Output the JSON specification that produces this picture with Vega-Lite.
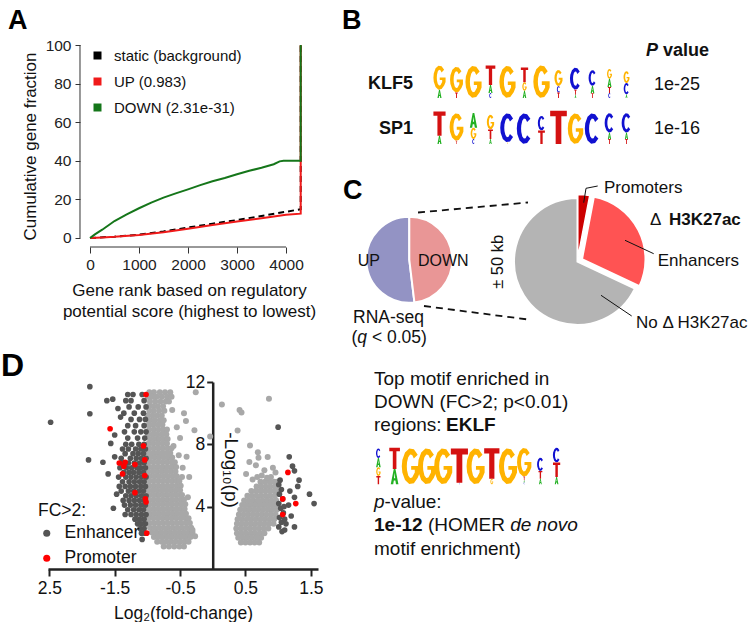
{
"$schema": "https://vega.github.io/schema/vega-lite/v6.json",
"background": "white",
"padding": {"left": 0, "top": 6, "right": 0, "bottom": 0},
"columns": 2,
"spacing": {"row": 45, "column": 13},
"bounds": "flush",
"align": "each",
"resolve": {"scale": {"color": "independent", "size": "independent", "shape": "independent", "opacity": "independent", "theta": "independent"}, "legend": {"color": "independent"}},
"config": {
  "font": "Liberation Sans",
  "view": {"stroke": null},
  "axis": {"grid": false, "labelColor": "#222", "titleColor": "#111", "titleFontWeight": "normal", "labelFlush": false, "labelOverlap": false},
  "text": {"color": "#111"},
  "legend": {"labelColor": "#111", "titleColor": "#111"}
},
"datasets": {
  "cum": [
    {"set":"static (background)","rank":0,"frac":0},{"set":"static (background)","rank":500,"frac":0.7},{"set":"static (background)","rank":1000,"frac":1.7},{"set":"static (background)","rank":1500,"frac":3.4},{"set":"static (background)","rank":2000,"frac":5.4},{"set":"static (background)","rank":2500,"frac":7.4},{"set":"static (background)","rank":3000,"frac":9.3},{"set":"static (background)","rank":3500,"frac":11.4},{"set":"static (background)","rank":4000,"frac":13.6},{"set":"static (background)","rank":4300,"frac":14.9},{"set":"static (background)","rank":4300,"frac":100},
    {"set":"UP (0.983)","rank":0,"frac":0},{"set":"UP (0.983)","rank":250,"frac":0.3},{"set":"UP (0.983)","rank":500,"frac":0.6},{"set":"UP (0.983)","rank":1000,"frac":1.5},{"set":"UP (0.983)","rank":1500,"frac":3.0},{"set":"UP (0.983)","rank":2000,"frac":4.8},{"set":"UP (0.983)","rank":2500,"frac":6.7},{"set":"UP (0.983)","rank":3000,"frac":8.5},{"set":"UP (0.983)","rank":3500,"frac":10.2},{"set":"UP (0.983)","rank":4000,"frac":12.1},{"set":"UP (0.983)","rank":4300,"frac":12.6},{"set":"UP (0.983)","rank":4300,"frac":100},
    {"set":"DOWN (2.31e-31)","rank":0,"frac":0},{"set":"DOWN (2.31e-31)","rank":100,"frac":1.9},{"set":"DOWN (2.31e-31)","rank":250,"frac":4.3},{"set":"DOWN (2.31e-31)","rank":500,"frac":8.8},{"set":"DOWN (2.31e-31)","rank":750,"frac":12.2},{"set":"DOWN (2.31e-31)","rank":1000,"frac":15.4},{"set":"DOWN (2.31e-31)","rank":1250,"frac":18.3},{"set":"DOWN (2.31e-31)","rank":1500,"frac":20.9},{"set":"DOWN (2.31e-31)","rank":1750,"frac":23.1},{"set":"DOWN (2.31e-31)","rank":2000,"frac":25.2},{"set":"DOWN (2.31e-31)","rank":2250,"frac":27.4},{"set":"DOWN (2.31e-31)","rank":2500,"frac":29.4},{"set":"DOWN (2.31e-31)","rank":2750,"frac":31.1},{"set":"DOWN (2.31e-31)","rank":3000,"frac":33.0},{"set":"DOWN (2.31e-31)","rank":3250,"frac":34.8},{"set":"DOWN (2.31e-31)","rank":3500,"frac":36.4},{"set":"DOWN (2.31e-31)","rank":3750,"frac":38.2},{"set":"DOWN (2.31e-31)","rank":3870,"frac":39.7},{"set":"DOWN (2.31e-31)","rank":3950,"frac":40},{"set":"DOWN (2.31e-31)","rank":4300,"frac":40},{"set":"DOWN (2.31e-31)","rank":4300,"frac":100}
  ],
  "ns": [
    {"x":-0.97,"y":11.35},{"x":-0.9,"y":11.35},{"x":-0.81,"y":11.35},{"x":-0.73,"y":11.35},{"x":-0.65,"y":11.35},
    {"x":-0.99,"y":11.05},{"x":-0.93,"y":11.05},{"x":-0.86,"y":11.05},{"x":-0.78,"y":11.05},{"x":-0.7,"y":11.05},{"x":-0.63,"y":11.05},
    {"x":-0.96,"y":10.75},{"x":-0.88,"y":10.75},{"x":-0.8,"y":10.75},{"x":-0.72,"y":10.75},{"x":-0.67,"y":10.75},
    {"x":-0.98,"y":10.45},{"x":-0.91,"y":10.45},{"x":-0.84,"y":10.45},{"x":-0.76,"y":10.45},
    {"x":-0.97,"y":10.15},{"x":-0.9,"y":10.15},{"x":-0.82,"y":10.15},{"x":-0.74,"y":10.15},
    {"x":-0.99,"y":9.85},{"x":-0.92,"y":9.85},{"x":-0.85,"y":9.85},{"x":-0.78,"y":9.85},
    {"x":-0.96,"y":9.55},{"x":-0.89,"y":9.55},{"x":-0.81,"y":9.55},{"x":-0.75,"y":9.55},
    {"x":-0.98,"y":9.25},{"x":-0.91,"y":9.25},{"x":-0.84,"y":9.25},{"x":-0.77,"y":9.25},
    {"x":-0.97,"y":8.95},{"x":-0.9,"y":8.95},{"x":-0.83,"y":8.95},{"x":-0.76,"y":8.95},{"x":-0.7,"y":8.95},
    {"x":-0.99,"y":8.65},{"x":-0.92,"y":8.65},{"x":-0.85,"y":8.65},{"x":-0.78,"y":8.65},{"x":-0.71,"y":8.65},
    {"x":-0.96,"y":8.35},{"x":-0.89,"y":8.35},{"x":-0.82,"y":8.35},{"x":-0.75,"y":8.35},{"x":-0.69,"y":8.35},
    {"x":-0.98,"y":8.05},{"x":-0.91,"y":8.05},{"x":-0.84,"y":8.05},{"x":-0.77,"y":8.05},{"x":-0.7,"y":8.05},
    {"x":-0.97,"y":7.75},{"x":-0.9,"y":7.75},{"x":-0.83,"y":7.75},{"x":-0.76,"y":7.75},{"x":-0.69,"y":7.75},{"x":-0.63,"y":7.75},
    {"x":-0.99,"y":7.45},{"x":-0.92,"y":7.45},{"x":-0.85,"y":7.45},{"x":-0.78,"y":7.45},{"x":-0.71,"y":7.45},{"x":-0.65,"y":7.45},
    {"x":-0.96,"y":7.15},{"x":-0.89,"y":7.15},{"x":-0.82,"y":7.15},{"x":-0.75,"y":7.15},{"x":-0.68,"y":7.15},{"x":-0.62,"y":7.15},
    {"x":-0.98,"y":6.85},{"x":-0.91,"y":6.85},{"x":-0.84,"y":6.85},{"x":-0.77,"y":6.85},{"x":-0.7,"y":6.85},{"x":-0.63,"y":6.85},{"x":-0.58,"y":6.85},
    {"x":-0.97,"y":6.55},{"x":-0.9,"y":6.55},{"x":-0.83,"y":6.55},{"x":-0.76,"y":6.55},{"x":-0.69,"y":6.55},{"x":-0.62,"y":6.55},{"x":-0.56,"y":6.55},
    {"x":-0.99,"y":6.25},{"x":-0.92,"y":6.25},{"x":-0.85,"y":6.25},{"x":-0.78,"y":6.25},{"x":-0.71,"y":6.25},{"x":-0.64,"y":6.25},{"x":-0.57,"y":6.25},
    {"x":-0.96,"y":5.95},{"x":-0.89,"y":5.95},{"x":-0.82,"y":5.95},{"x":-0.75,"y":5.95},{"x":-0.68,"y":5.95},{"x":-0.61,"y":5.95},{"x":-0.55,"y":5.95},
    {"x":-0.98,"y":5.65},{"x":-0.91,"y":5.65},{"x":-0.84,"y":5.65},{"x":-0.77,"y":5.65},{"x":-0.7,"y":5.65},{"x":-0.63,"y":5.65},{"x":-0.56,"y":5.65},{"x":-0.51,"y":5.65},
    {"x":-0.97,"y":5.35},{"x":-0.9,"y":5.35},{"x":-0.83,"y":5.35},{"x":-0.76,"y":5.35},{"x":-0.69,"y":5.35},{"x":-0.62,"y":5.35},{"x":-0.55,"y":5.35},{"x":-0.49,"y":5.35},
    {"x":-0.99,"y":5.05},{"x":-0.92,"y":5.05},{"x":-0.85,"y":5.05},{"x":-0.78,"y":5.05},{"x":-0.71,"y":5.05},{"x":-0.64,"y":5.05},{"x":-0.57,"y":5.05},{"x":-0.5,"y":5.05},
    {"x":-0.96,"y":4.75},{"x":-0.89,"y":4.75},{"x":-0.82,"y":4.75},{"x":-0.75,"y":4.75},{"x":-0.68,"y":4.75},{"x":-0.61,"y":4.75},{"x":-0.54,"y":4.75},{"x":-0.47,"y":4.75},
    {"x":-0.98,"y":4.45},{"x":-0.91,"y":4.45},{"x":-0.84,"y":4.45},{"x":-0.77,"y":4.45},{"x":-0.7,"y":4.45},{"x":-0.63,"y":4.45},{"x":-0.56,"y":4.45},{"x":-0.49,"y":4.45},{"x":-0.44,"y":4.45},
    {"x":-0.97,"y":4.15},{"x":-0.9,"y":4.15},{"x":-0.83,"y":4.15},{"x":-0.76,"y":4.15},{"x":-0.69,"y":4.15},{"x":-0.62,"y":4.15},{"x":-0.55,"y":4.15},{"x":-0.48,"y":4.15},{"x":-0.42,"y":4.15},
    {"x":-0.99,"y":3.85},{"x":-0.92,"y":3.85},{"x":-0.85,"y":3.85},{"x":-0.78,"y":3.85},{"x":-0.71,"y":3.85},{"x":-0.64,"y":3.85},{"x":-0.57,"y":3.85},{"x":-0.5,"y":3.85},{"x":-0.43,"y":3.85},
    {"x":-0.96,"y":3.55},{"x":-0.89,"y":3.55},{"x":-0.82,"y":3.55},{"x":-0.75,"y":3.55},{"x":-0.68,"y":3.55},{"x":-0.61,"y":3.55},{"x":-0.54,"y":3.55},{"x":-0.47,"y":3.55},{"x":-0.41,"y":3.55},
    {"x":-0.98,"y":3.25},{"x":-0.91,"y":3.25},{"x":-0.84,"y":3.25},{"x":-0.77,"y":3.25},{"x":-0.7,"y":3.25},{"x":-0.63,"y":3.25},{"x":-0.56,"y":3.25},{"x":-0.49,"y":3.25},{"x":-0.42,"y":3.25},{"x":-0.37,"y":3.25},
    {"x":-0.97,"y":2.95},{"x":-0.9,"y":2.95},{"x":-0.83,"y":2.95},{"x":-0.76,"y":2.95},{"x":-0.69,"y":2.95},{"x":-0.62,"y":2.95},{"x":-0.55,"y":2.95},{"x":-0.48,"y":2.95},{"x":-0.41,"y":2.95},{"x":-0.35,"y":2.95},
    {"x":-0.96,"y":2.65},{"x":-0.89,"y":2.65},{"x":-0.82,"y":2.65},{"x":-0.75,"y":2.65},{"x":-0.68,"y":2.65},{"x":-0.61,"y":2.65},{"x":-0.54,"y":2.65},{"x":-0.47,"y":2.65},{"x":-0.4,"y":2.65},{"x":-0.33,"y":2.65},
    {"x":-0.93,"y":2.35},{"x":-0.86,"y":2.35},{"x":-0.79,"y":2.35},{"x":-0.72,"y":2.35},{"x":-0.65,"y":2.35},{"x":-0.58,"y":2.35},{"x":-0.51,"y":2.35},{"x":-0.44,"y":2.35},{"x":-0.37,"y":2.35},{"x":-0.31,"y":2.35},
    {"x":-0.9,"y":2.05},{"x":-0.83,"y":2.05},{"x":-0.76,"y":2.05},{"x":-0.69,"y":2.05},{"x":-0.62,"y":2.05},{"x":-0.55,"y":2.05},{"x":-0.48,"y":2.05},{"x":-0.41,"y":2.05},{"x":-0.34,"y":2.05},
    {"x":-0.85,"y":1.75},{"x":-0.78,"y":1.75},{"x":-0.71,"y":1.75},{"x":-0.64,"y":1.75},{"x":-0.57,"y":1.75},{"x":-0.5,"y":1.75},{"x":-0.43,"y":1.75},{"x":-0.37,"y":1.75},
    {"x":-0.75,"y":1.45},{"x":-0.67,"y":1.45},{"x":-0.59,"y":1.45},{"x":-0.51,"y":1.45},{"x":-0.44,"y":1.45},
    {"x":-0.41,"y":9.5},{"x":-0.28,"y":8.9},{"x":-0.44,"y":9.99},{"x":-0.6,"y":7.9},{"x":-0.46,"y":6.5},{"x":-0.36,"y":5.9},{"x":-0.47,"y":5.9},{"x":-0.31,"y":2.5},{"x":-0.27,"y":2.1},{"x":-0.26,"y":11.35},{"x":-0.04,"y":8.5},{"x":-0.5,"y":8.4},{"x":-0.55,"y":9.1},{"x":-0.62,"y":10.2},{"x":-0.38,"y":4.6},{"x":-0.4,"y":7.2},{"x":-0.52,"y":7.3},
    {"x":0.73,"y":5.6},{"x":0.8,"y":5.6},{"x":0.87,"y":5.6},{"x":0.94,"y":5.6},{"x":0.99,"y":5.6},
    {"x":0.67,"y":5.3},{"x":0.74,"y":5.3},{"x":0.81,"y":5.3},{"x":0.88,"y":5.3},{"x":0.95,"y":5.3},
    {"x":0.59,"y":5.0},{"x":0.66,"y":5.0},{"x":0.73,"y":5.0},{"x":0.8,"y":5.0},{"x":0.87,"y":5.0},{"x":0.94,"y":5.0},{"x":0.99,"y":5.0},
    {"x":0.53,"y":4.7},{"x":0.6,"y":4.7},{"x":0.67,"y":4.7},{"x":0.74,"y":4.7},{"x":0.81,"y":4.7},{"x":0.88,"y":4.7},{"x":0.95,"y":4.7},
    {"x":0.48,"y":4.4},{"x":0.55,"y":4.4},{"x":0.62,"y":4.4},{"x":0.69,"y":4.4},{"x":0.76,"y":4.4},{"x":0.83,"y":4.4},{"x":0.9,"y":4.4},{"x":0.97,"y":4.4},
    {"x":0.45,"y":4.1},{"x":0.52,"y":4.1},{"x":0.59,"y":4.1},{"x":0.66,"y":4.1},{"x":0.73,"y":4.1},{"x":0.8,"y":4.1},{"x":0.87,"y":4.1},{"x":0.94,"y":4.1},{"x":0.99,"y":4.1},
    {"x":0.42,"y":3.8},{"x":0.49,"y":3.8},{"x":0.56,"y":3.8},{"x":0.63,"y":3.8},{"x":0.7,"y":3.8},{"x":0.77,"y":3.8},{"x":0.84,"y":3.8},{"x":0.91,"y":3.8},{"x":0.98,"y":3.8},
    {"x":0.4,"y":3.5},{"x":0.47,"y":3.5},{"x":0.54,"y":3.5},{"x":0.61,"y":3.5},{"x":0.68,"y":3.5},{"x":0.75,"y":3.5},{"x":0.82,"y":3.5},{"x":0.89,"y":3.5},{"x":0.96,"y":3.5},
    {"x":0.38,"y":3.2},{"x":0.45,"y":3.2},{"x":0.52,"y":3.2},{"x":0.59,"y":3.2},{"x":0.66,"y":3.2},{"x":0.73,"y":3.2},{"x":0.8,"y":3.2},{"x":0.87,"y":3.2},{"x":0.94,"y":3.2},
    {"x":0.37,"y":2.9},{"x":0.44,"y":2.9},{"x":0.51,"y":2.9},{"x":0.58,"y":2.9},{"x":0.65,"y":2.9},{"x":0.72,"y":2.9},{"x":0.79,"y":2.9},{"x":0.86,"y":2.9},{"x":0.93,"y":2.9},
    {"x":0.36,"y":2.6},{"x":0.43,"y":2.6},{"x":0.5,"y":2.6},{"x":0.57,"y":2.6},{"x":0.64,"y":2.6},{"x":0.71,"y":2.6},{"x":0.78,"y":2.6},{"x":0.85,"y":2.6},
    {"x":0.37,"y":2.3},{"x":0.44,"y":2.3},{"x":0.51,"y":2.3},{"x":0.58,"y":2.3},{"x":0.65,"y":2.3},{"x":0.72,"y":2.3},{"x":0.79,"y":2.3},
    {"x":0.39,"y":2.0},{"x":0.46,"y":2.0},{"x":0.53,"y":2.0},{"x":0.6,"y":2.0},{"x":0.67,"y":2.0},{"x":0.74,"y":2.0},
    {"x":0.43,"y":1.7},{"x":0.5,"y":1.7},{"x":0.57,"y":1.7},{"x":0.64,"y":1.7},{"x":0.71,"y":1.7},
    {"x":0.14,"y":10.56},{"x":0.41,"y":10.2},{"x":0.44,"y":10.05},{"x":0.86,"y":10.92},{"x":0.38,"y":8.89},{"x":0.57,"y":7.93},{"x":0.69,"y":7.5},{"x":0.7,"y":7.14},{"x":0.84,"y":7.18},{"x":0.56,"y":6.86},{"x":0.66,"y":6.65},{"x":0.79,"y":6.33},{"x":0.89,"y":5.9},{"x":0.51,"y":6.1},{"x":0.61,"y":5.75},{"x":0.92,"y":6.5},{"x":0.75,"y":6.0},{"x":0.96,"y":6.2},{"x":0.83,"y":5.85},{"x":0.68,"y":5.9}
  ],
  "fc": [
    {"x":-1.05,"y":8.0,"t":"Enhancer"},{"x":-1.13,"y":8.0,"t":"Enhancer"},{"x":-1.24,"y":8.0,"t":"Enhancer"},{"x":-1.33,"y":8.0,"t":"Enhancer"},
    {"x":-1.03,"y":7.7,"t":"Enhancer"},{"x":-1.1,"y":7.7,"t":"Enhancer"},{"x":-1.18,"y":7.7,"t":"Enhancer"},{"x":-1.29,"y":7.7,"t":"Enhancer"},{"x":-1.38,"y":7.7,"t":"Enhancer"},
    {"x":-1.06,"y":7.4,"t":"Enhancer"},{"x":-1.14,"y":7.4,"t":"Enhancer"},{"x":-1.22,"y":7.4,"t":"Enhancer"},{"x":-1.34,"y":7.4,"t":"Enhancer"},
    {"x":-1.02,"y":7.1,"t":"Enhancer"},{"x":-1.09,"y":7.1,"t":"Enhancer"},{"x":-1.17,"y":7.1,"t":"Enhancer"},{"x":-1.26,"y":7.1,"t":"Enhancer"},{"x":-1.4,"y":7.1,"t":"Enhancer"},
    {"x":-1.05,"y":6.8,"t":"Enhancer"},{"x":-1.12,"y":6.8,"t":"Enhancer"},{"x":-1.2,"y":6.8,"t":"Enhancer"},{"x":-1.29,"y":6.8,"t":"Enhancer"},{"x":-1.37,"y":6.8,"t":"Enhancer"},
    {"x":-1.03,"y":6.5,"t":"Enhancer"},{"x":-1.1,"y":6.5,"t":"Enhancer"},{"x":-1.16,"y":6.5,"t":"Enhancer"},{"x":-1.24,"y":6.5,"t":"Enhancer"},{"x":-1.32,"y":6.5,"t":"Enhancer"},{"x":-1.42,"y":6.5,"t":"Enhancer"},
    {"x":-1.06,"y":6.2,"t":"Enhancer"},{"x":-1.13,"y":6.2,"t":"Enhancer"},{"x":-1.21,"y":6.2,"t":"Enhancer"},{"x":-1.28,"y":6.2,"t":"Enhancer"},{"x":-1.36,"y":6.2,"t":"Enhancer"},
    {"x":-1.02,"y":5.9,"t":"Enhancer"},{"x":-1.09,"y":5.9,"t":"Enhancer"},{"x":-1.17,"y":5.9,"t":"Enhancer"},{"x":-1.25,"y":5.9,"t":"Enhancer"},{"x":-1.33,"y":5.9,"t":"Enhancer"},{"x":-1.44,"y":5.9,"t":"Enhancer"},
    {"x":-1.05,"y":5.6,"t":"Enhancer"},{"x":-1.12,"y":5.6,"t":"Enhancer"},{"x":-1.2,"y":5.6,"t":"Enhancer"},{"x":-1.28,"y":5.6,"t":"Enhancer"},{"x":-1.38,"y":5.6,"t":"Enhancer"},
    {"x":-1.03,"y":5.3,"t":"Enhancer"},{"x":-1.1,"y":5.3,"t":"Enhancer"},{"x":-1.18,"y":5.3,"t":"Enhancer"},{"x":-1.26,"y":5.3,"t":"Enhancer"},{"x":-1.34,"y":5.3,"t":"Enhancer"},{"x":-1.43,"y":5.3,"t":"Enhancer"},
    {"x":-1.06,"y":5.0,"t":"Enhancer"},{"x":-1.13,"y":5.0,"t":"Enhancer"},{"x":-1.21,"y":5.0,"t":"Enhancer"},{"x":-1.29,"y":5.0,"t":"Enhancer"},{"x":-1.4,"y":5.0,"t":"Enhancer"},
    {"x":-1.02,"y":4.7,"t":"Enhancer"},{"x":-1.09,"y":4.7,"t":"Enhancer"},{"x":-1.17,"y":4.7,"t":"Enhancer"},{"x":-1.25,"y":4.7,"t":"Enhancer"},{"x":-1.33,"y":4.7,"t":"Enhancer"},
    {"x":-1.05,"y":4.4,"t":"Enhancer"},{"x":-1.12,"y":4.4,"t":"Enhancer"},{"x":-1.2,"y":4.4,"t":"Enhancer"},{"x":-1.28,"y":4.4,"t":"Enhancer"},{"x":-1.37,"y":4.4,"t":"Enhancer"},
    {"x":-1.03,"y":4.1,"t":"Enhancer"},{"x":-1.1,"y":4.1,"t":"Enhancer"},{"x":-1.18,"y":4.1,"t":"Enhancer"},{"x":-1.26,"y":4.1,"t":"Enhancer"},{"x":-1.35,"y":4.1,"t":"Enhancer"},
    {"x":-1.06,"y":3.8,"t":"Enhancer"},{"x":-1.13,"y":3.8,"t":"Enhancer"},{"x":-1.21,"y":3.8,"t":"Enhancer"},{"x":-1.3,"y":3.8,"t":"Enhancer"},
    {"x":-1.02,"y":3.5,"t":"Enhancer"},{"x":-1.09,"y":3.5,"t":"Enhancer"},{"x":-1.17,"y":3.5,"t":"Enhancer"},{"x":-1.25,"y":3.5,"t":"Enhancer"},{"x":-1.34,"y":3.5,"t":"Enhancer"},
    {"x":-1.05,"y":3.2,"t":"Enhancer"},{"x":-1.12,"y":3.2,"t":"Enhancer"},{"x":-1.19,"y":3.2,"t":"Enhancer"},
    {"x":-1.03,"y":2.9,"t":"Enhancer"},{"x":-1.09,"y":2.9,"t":"Enhancer"},{"x":-1.15,"y":2.9,"t":"Enhancer"},
    {"x":-1.05,"y":2.6,"t":"Enhancer"},{"x":-1.11,"y":2.6,"t":"Enhancer"},
    {"x":-1.04,"y":2.3,"t":"Enhancer"},{"x":-1.09,"y":2.3,"t":"Enhancer"},
    {"x":-1.04,"y":8.4,"t":"Enhancer"},{"x":-1.15,"y":8.4,"t":"Enhancer"},{"x":-1.3,"y":8.4,"t":"Enhancer"},
    {"x":-1.02,"y":8.8,"t":"Enhancer"},{"x":-1.1,"y":8.8,"t":"Enhancer"},{"x":-1.2,"y":8.8,"t":"Enhancer"},{"x":-1.35,"y":8.8,"t":"Enhancer"},
    {"x":-1.05,"y":9.2,"t":"Enhancer"},{"x":-1.18,"y":9.2,"t":"Enhancer"},{"x":-1.3,"y":9.2,"t":"Enhancer"},
    {"x":-1.03,"y":9.6,"t":"Enhancer"},{"x":-1.12,"y":9.6,"t":"Enhancer"},{"x":-1.25,"y":9.6,"t":"Enhancer"},
    {"x":-1.06,"y":10.0,"t":"Enhancer"},{"x":-1.2,"y":10.0,"t":"Enhancer"},{"x":-1.36,"y":10.0,"t":"Enhancer"},
    {"x":-1.02,"y":10.4,"t":"Enhancer"},{"x":-1.14,"y":10.4,"t":"Enhancer"},{"x":-1.28,"y":10.4,"t":"Enhancer"},
    {"x":-1.05,"y":10.8,"t":"Enhancer"},{"x":-1.25,"y":10.8,"t":"Enhancer"},{"x":-1.33,"y":10.8,"t":"Enhancer"},
    {"x":-1.08,"y":11.2,"t":"Enhancer"},{"x":-1.22,"y":11.2,"t":"Enhancer"},{"x":-1.3,"y":11.2,"t":"Enhancer"},
    {"x":-1.88,"y":11.7,"t":"Enhancer"},{"x":-1.88,"y":9.96,"t":"Enhancer"},{"x":-2.48,"y":9.42,"t":"Enhancer"},{"x":-1.9,"y":7.0,"t":"Enhancer"},{"x":-1.6,"y":6.1,"t":"Enhancer"},{"x":-1.62,"y":10.8,"t":"Enhancer"},{"x":-1.53,"y":10.9,"t":"Enhancer"},{"x":-1.41,"y":9.75,"t":"Enhancer"},{"x":-1.56,"y":8.06,"t":"Enhancer"},{"x":-1.68,"y":6.85,"t":"Enhancer"},{"x":-1.5,"y":7.2,"t":"Enhancer"},{"x":-1.47,"y":4.8,"t":"Enhancer"},{"x":-1.52,"y":3.9,"t":"Enhancer"},{"x":-1.08,"y":1.9,"t":"Enhancer"},{"x":-1.5,"y":8.6,"t":"Enhancer"},{"x":-1.45,"y":10.3,"t":"Enhancer"},
    {"x":1.01,"y":5.4,"t":"Enhancer"},{"x":1.05,"y":5.1,"t":"Enhancer"},{"x":1.02,"y":4.8,"t":"Enhancer"},{"x":1.07,"y":4.5,"t":"Enhancer"},{"x":1.01,"y":4.2,"t":"Enhancer"},{"x":1.04,"y":3.9,"t":"Enhancer"},{"x":1.08,"y":3.6,"t":"Enhancer"},{"x":1.02,"y":3.3,"t":"Enhancer"},{"x":1.05,"y":3.0,"t":"Enhancer"},{"x":1.01,"y":2.7,"t":"Enhancer"},{"x":1.06,"y":2.4,"t":"Enhancer"},{"x":1.09,"y":4.0,"t":"Enhancer"},{"x":1.03,"y":5.7,"t":"Enhancer"},{"x":1.1,"y":3.2,"t":"Enhancer"},
    {"x":1.0,"y":9.1,"t":"Enhancer"},{"x":1.17,"y":7.2,"t":"Enhancer"},{"x":1.22,"y":6.6,"t":"Enhancer"},{"x":1.25,"y":6.3,"t":"Enhancer"},{"x":1.32,"y":5.7,"t":"Enhancer"},{"x":1.3,"y":5.3,"t":"Enhancer"},{"x":1.48,"y":4.8,"t":"Enhancer"},{"x":1.55,"y":4.2,"t":"Enhancer"},{"x":1.16,"y":4.1,"t":"Enhancer"},{"x":1.25,"y":4.6,"t":"Enhancer"},{"x":1.2,"y":3.4,"t":"Enhancer"},{"x":1.1,"y":2.5,"t":"Enhancer"},{"x":1.25,"y":2.7,"t":"Enhancer"},{"x":1.12,"y":2.9,"t":"Enhancer"},{"x":1.18,"y":5.0,"t":"Enhancer"},
    {"x":-1.02,"y":11.2,"t":"Promoter"},{"x":-1.57,"y":9.0,"t":"Promoter"},{"x":-1.06,"y":7.9,"t":"Promoter"},{"x":-1.04,"y":7.0,"t":"Promoter"},{"x":-1.43,"y":6.8,"t":"Promoter"},{"x":-1.36,"y":6.6,"t":"Promoter"},{"x":-1.34,"y":6.85,"t":"Promoter"},{"x":-1.19,"y":6.7,"t":"Promoter"},{"x":-1.38,"y":6.1,"t":"Promoter"},{"x":-1.04,"y":6.0,"t":"Promoter"},{"x":-1.19,"y":4.9,"t":"Promoter"},{"x":-1.03,"y":4.5,"t":"Promoter"},{"x":-1.02,"y":4.3,"t":"Promoter"},{"x":-1.01,"y":2.3,"t":"Promoter"},
    {"x":1.15,"y":6.2,"t":"Promoter"},{"x":1.07,"y":4.5,"t":"Promoter"},{"x":1.27,"y":4.2,"t":"Promoter"},{"x":1.07,"y":3.5,"t":"Promoter"}
  ],
  "rna": [{"dir":"UP","pct":51.9},{"dir":"DOWN","pct":48.1}],
  "h3": [{"reg":"Promoters","pct":3},{"reg":"Enhancers","pct":29},{"reg":"No Δ H3K27ac","pct":68}],
  "logo": [
    {"motif":"KLF5","pos":1,"nt":"G","bits":1.43},{"motif":"KLF5","pos":1,"nt":"A","bits":0.48},
    {"motif":"KLF5","pos":2,"nt":"G","bits":1.52},{"motif":"KLF5","pos":2,"nt":"T","bits":0.32},
    {"motif":"KLF5","pos":3,"nt":"G","bits":1.9},
    {"motif":"KLF5","pos":4,"nt":"T","bits":1.14},{"motif":"KLF5","pos":4,"nt":"A","bits":0.48},{"motif":"KLF5","pos":4,"nt":"C","bits":0.29},
    {"motif":"KLF5","pos":5,"nt":"G","bits":1.9},
    {"motif":"KLF5","pos":6,"nt":"T","bits":0.86},{"motif":"KLF5","pos":6,"nt":"G","bits":0.51},{"motif":"KLF5","pos":6,"nt":"A","bits":0.42},
    {"motif":"KLF5","pos":7,"nt":"G","bits":1.92},
    {"motif":"KLF5","pos":8,"nt":"G","bits":0.95},{"motif":"KLF5","pos":8,"nt":"C","bits":0.38},{"motif":"KLF5","pos":8,"nt":"T","bits":0.32},
    {"motif":"KLF5","pos":9,"nt":"C","bits":1.3},{"motif":"KLF5","pos":9,"nt":"T","bits":0.3},{"motif":"KLF5","pos":9,"nt":"A","bits":0.19},
    {"motif":"KLF5","pos":10,"nt":"C","bits":0.92},{"motif":"KLF5","pos":10,"nt":"A","bits":0.44},{"motif":"KLF5","pos":10,"nt":"T","bits":0.28},
    {"motif":"KLF5","pos":11,"nt":"G","bits":0.58},{"motif":"KLF5","pos":11,"nt":"A","bits":0.48},{"motif":"KLF5","pos":11,"nt":"T","bits":0.36},{"motif":"KLF5","pos":11,"nt":"C","bits":0.29},
    {"motif":"KLF5","pos":12,"nt":"G","bits":0.7},{"motif":"KLF5","pos":12,"nt":"C","bits":0.66},{"motif":"KLF5","pos":12,"nt":"A","bits":0.22},
    {"motif":"SP1","pos":1,"nt":"T","bits":1.43},{"motif":"SP1","pos":1,"nt":"A","bits":0.48},
    {"motif":"SP1","pos":2,"nt":"G","bits":1.62},{"motif":"SP1","pos":2,"nt":"T","bits":0.19},
    {"motif":"SP1","pos":3,"nt":"A","bits":0.86},{"motif":"SP1","pos":3,"nt":"G","bits":0.67},{"motif":"SP1","pos":3,"nt":"C","bits":0.29},
    {"motif":"SP1","pos":4,"nt":"G","bits":0.86},{"motif":"SP1","pos":4,"nt":"T","bits":0.57},{"motif":"SP1","pos":4,"nt":"A","bits":0.29},
    {"motif":"SP1","pos":5,"nt":"C","bits":1.71},{"motif":"SP1","pos":5,"nt":"G","bits":0.1},
    {"motif":"SP1","pos":6,"nt":"C","bits":1.81},
    {"motif":"SP1","pos":7,"nt":"C","bits":0.86},{"motif":"SP1","pos":7,"nt":"T","bits":0.8},
    {"motif":"SP1","pos":8,"nt":"T","bits":1.96},
    {"motif":"SP1","pos":9,"nt":"G","bits":1.81},
    {"motif":"SP1","pos":10,"nt":"C","bits":1.81},
    {"motif":"SP1","pos":11,"nt":"C","bits":1.14},{"motif":"SP1","pos":11,"nt":"A","bits":0.38},{"motif":"SP1","pos":11,"nt":"T","bits":0.29},
    {"motif":"SP1","pos":12,"nt":"C","bits":1.14},{"motif":"SP1","pos":12,"nt":"A","bits":0.38},{"motif":"SP1","pos":12,"nt":"T","bits":0.29},
    {"motif":"EKLF","pos":1,"nt":"C","bits":0.52},{"motif":"EKLF","pos":1,"nt":"A","bits":0.5},{"motif":"EKLF","pos":1,"nt":"G","bits":0.47},{"motif":"EKLF","pos":1,"nt":"T","bits":0.45},
    {"motif":"EKLF","pos":2,"nt":"T","bits":1.15},{"motif":"EKLF","pos":2,"nt":"A","bits":0.83},
    {"motif":"EKLF","pos":3,"nt":"G","bits":1.95},
    {"motif":"EKLF","pos":4,"nt":"G","bits":1.95},
    {"motif":"EKLF","pos":5,"nt":"G","bits":1.95},
    {"motif":"EKLF","pos":6,"nt":"T","bits":1.85},{"motif":"EKLF","pos":6,"nt":"C","bits":0.08},
    {"motif":"EKLF","pos":7,"nt":"G","bits":1.95},
    {"motif":"EKLF","pos":8,"nt":"T","bits":1.65},{"motif":"EKLF","pos":8,"nt":"G","bits":0.3},
    {"motif":"EKLF","pos":9,"nt":"G","bits":1.95},
    {"motif":"EKLF","pos":10,"nt":"G","bits":1.55},{"motif":"EKLF","pos":10,"nt":"T","bits":0.2},{"motif":"EKLF","pos":10,"nt":"A","bits":0.12},{"motif":"EKLF","pos":10,"nt":"C","bits":0.1},
    {"motif":"EKLF","pos":11,"nt":"C","bits":0.72},{"motif":"EKLF","pos":11,"nt":"T","bits":0.42},{"motif":"EKLF","pos":11,"nt":"A","bits":0.3},
    {"motif":"EKLF","pos":12,"nt":"C","bits":0.8},{"motif":"EKLF","pos":12,"nt":"T","bits":0.78},{"motif":"EKLF","pos":12,"nt":"A","bits":0.4}
  ]
},
"concat": [
  {
    "width": 253, "height": 209,
    "layer": [
      {
        "data": {"name": "cum"},
        "encoding": {
          "x": {"field": "rank", "type": "quantitative", "scale": {"domain": [-857, 4306], "nice": false, "zero": false},
                "axis": {"values": [0,1000,2000,3000,4000], "format": "d", "domain": false, "offset": 1, "tickSize": 6, "tickColor": "#333", "labelFontSize": 15.5, "labelPadding": 4, "title": ["Gene rank based on regulatory", "potential score (highest to lowest)"], "titleFontSize": 17, "titlePadding": 10, "titleLineHeight": 21, "titleX": 141}},
          "y": {"field": "frac", "type": "quantitative", "scale": {"domain": [-4.15, 104.15], "nice": false, "zero": false},
                "axis": {"values": [0,20,40,60,80,100], "format": "d", "domain": false, "offset": -32, "tickSize": 5, "tickColor": "#333", "labelFontSize": 15.5, "labelPadding": 4, "title": "Cumulative gene fraction", "titleFontSize": 17, "titlePadding": 6, "titleY": 109}},
          "color": {"field": "set", "type": "nominal", "scale": {"domain": ["static (background)", "UP (0.983)", "DOWN (2.31e-31)"], "range": ["#000000", "#f01a1a", "#15761a"]},
                "legend": {"orient": "none", "legendX": 42, "legendY": 11, "title": null, "symbolType": "square", "symbolSize": 9, "symbolStrokeWidth": 5, "symbolDash": [], "labelFontSize": 15, "labelOffset": 9, "rowPadding": 3, "padding": 0}}
        },
        "layer": [
          {"transform": [{"filter": "datum.set === 'static (background)'"}], "mark": {"type": "line", "strokeWidth": 2, "strokeDash": [6, 4]}},
          {"transform": [{"filter": "datum.set === 'UP (0.983)'"}], "mark": {"type": "line", "strokeWidth": 2}},
          {"transform": [{"filter": "datum.set === 'DOWN (2.31e-31)'"}], "mark": {"type": "line", "strokeWidth": 2}}
        ]
      },
      {"data": {"values": [{}]}, "mark": {"type": "rule", "color": "#333", "strokeWidth": 1}, "encoding": {"x": {"datum": 0}, "x2": {"datum": 4000}, "y": {"datum": -4.67}}},
      {"data": {"values": [{}]}, "mark": {"type": "rule", "color": "#333", "strokeWidth": 1}, "encoding": {"x": {"datum": -204}, "y": {"datum": 0}, "y2": {"datum": 100}}},
      {"data": {"values": [{}]}, "mark": {"type": "text", "text": "A", "fontSize": 27, "fontWeight": "bold", "align": "left", "baseline": "alphabetic", "color": "#000"}, "encoding": {"x": {"datum": -1673}, "y": {"datum": 108.3}}}
    ]
  },
  {
    "width": 420, "height": 300,
    "resolve": {"scale": {"x": "independent", "y": "independent", "color": "independent", "size": "independent", "shape": "independent", "theta": "independent"}},
    "layer": [
      {
        "data": {"values": [{}]},
        "resolve": {"scale": {"theta": "independent", "color": "independent"}},
        "layer": [
          {"mark": {"type": "text", "text": "B", "fontSize": 27, "fontWeight": "bold", "align": "left", "baseline": "alphabetic", "color": "#000"},
           "encoding": {"x": {"datum": 341, "type": "quantitative", "scale": {"domain": [330, 750], "nice": false, "zero": false}, "axis": null},
                        "y": {"datum": 28.3, "type": "quantitative", "scale": {"domain": [36, 336], "reverse": true, "nice": false, "zero": false}, "axis": null}}},
          {"mark": {"type": "text", "text": "C", "fontSize": 27, "fontWeight": "bold", "align": "left", "baseline": "alphabetic", "color": "#000"}, "encoding": {"x": {"datum": 342, "axis": null}, "y": {"datum": 198.3, "axis": null}}},
          {"mark": {"type": "text", "text": "P", "fontSize": 18, "fontWeight": "bold", "fontStyle": "italic", "align": "left", "baseline": "alphabetic"}, "encoding": {"x": {"datum": 645, "axis": null}, "y": {"datum": 54.7, "axis": null}}},
          {"mark": {"type": "text", "text": "value", "fontSize": 18, "fontWeight": "bold", "align": "left", "baseline": "alphabetic"}, "encoding": {"x": {"datum": 662, "axis": null}, "y": {"datum": 54.7, "axis": null}}},
          {"mark": {"type": "text", "text": "KLF5", "fontSize": 18, "fontWeight": "bold", "align": "right", "baseline": "alphabetic"}, "encoding": {"x": {"datum": 412, "axis": null}, "y": {"datum": 88.1, "axis": null}}},
          {"mark": {"type": "text", "text": "SP1", "fontSize": 18, "fontWeight": "bold", "align": "right", "baseline": "alphabetic"}, "encoding": {"x": {"datum": 412, "axis": null}, "y": {"datum": 133.1, "axis": null}}},
          {"mark": {"type": "text", "text": "1e-25", "fontSize": 18, "align": "left", "baseline": "alphabetic"}, "encoding": {"x": {"datum": 653, "axis": null}, "y": {"datum": 89.1, "axis": null}}},
          {"mark": {"type": "text", "text": "1e-16", "fontSize": 18, "align": "left", "baseline": "alphabetic"}, "encoding": {"x": {"datum": 653, "axis": null}, "y": {"datum": 133.1, "axis": null}}},
          {"data": {"name": "rna"}, "mark": {"type": "arc", "outerRadius": 43, "stroke": "#ffffff", "strokeWidth": 2},
           "encoding": {"theta": {"field": "pct", "type": "quantitative"}, "order": {"field": "pct", "type": "quantitative", "sort": "ascending"},
                        "color": {"field": "dir", "type": "nominal", "scale": {"domain": ["UP", "DOWN"], "range": ["#9393c4", "#e99696"]}, "legend": null},
                        "x": {"datum": 408.3, "axis": null}, "y": {"datum": 258.8, "axis": null}}},
          {"data": {"name": "h3"},
           "encoding": {"theta": {"field": "pct", "type": "quantitative"}, "order": {"field": "pct", "type": "quantitative", "sort": "ascending"},
                        "color": {"field": "reg", "type": "nominal", "scale": {"domain": ["Promoters", "Enhancers", "No Δ H3K27ac"], "range": ["#cc0000", "#ff5353", "#b4b4b4"]}, "legend": null},
                        "x": {"datum": 576.5, "axis": null}, "y": {"datum": 260.5, "axis": null}},
           "layer": [
             {"mark": {"type": "arc", "outerRadius": 63.5, "stroke": "#ffffff", "strokeWidth": 2}, "encoding": {"opacity": {"condition": {"test": "datum.reg === 'No Δ H3K27ac'", "value": 1}, "value": 0}}},
             {"mark": {"type": "arc", "outerRadius": 63.5, "stroke": "#ffffff", "strokeWidth": 1.5, "xOffset": 0.3, "yOffset": -3.5}, "encoding": {"opacity": {"condition": {"test": "datum.reg === 'Promoters'", "value": 1}, "value": 0}}},
             {"mark": {"type": "arc", "outerRadius": 63.5, "stroke": "#ffffff", "strokeWidth": 2, "xOffset": 4.5, "yOffset": -2.3}, "encoding": {"opacity": {"condition": {"test": "datum.reg === 'Enhancers'", "value": 1}, "value": 0}}}
           ]},
          {"mark": {"type": "text", "text": "UP", "fontSize": 16, "align": "left", "baseline": "alphabetic"}, "encoding": {"x": {"datum": 356.7, "axis": null}, "y": {"datum": 265, "axis": null}}},
          {"mark": {"type": "text", "text": "DOWN", "fontSize": 16, "align": "left", "baseline": "alphabetic"}, "encoding": {"x": {"datum": 417, "axis": null}, "y": {"datum": 265, "axis": null}}},
          {"mark": {"type": "text", "text": "RNA-seq", "fontSize": 17.5, "align": "center", "baseline": "alphabetic"}, "encoding": {"x": {"datum": 387.5, "axis": null}, "y": {"datum": 321.5, "axis": null}}},
          {"mark": {"type": "text", "text": "(", "fontSize": 17.5, "align": "left", "baseline": "alphabetic"}, "encoding": {"x": {"datum": 350.5, "axis": null}, "y": {"datum": 341.5, "axis": null}}},
          {"mark": {"type": "text", "text": "q", "fontSize": 17.5, "fontStyle": "italic", "align": "left", "baseline": "alphabetic"}, "encoding": {"x": {"datum": 356.3, "axis": null}, "y": {"datum": 341.5, "axis": null}}},
          {"mark": {"type": "text", "text": "< 0.05)", "fontSize": 17.5, "align": "left", "baseline": "alphabetic"}, "encoding": {"x": {"datum": 370.9, "axis": null}, "y": {"datum": 341.5, "axis": null}}},
          {"mark": {"type": "text", "text": "± 50 kb", "fontSize": 16.5, "angle": 270, "align": "center", "baseline": "middle"}, "encoding": {"x": {"datum": 496.7, "axis": null}, "y": {"datum": 260.8, "axis": null}}},
          {"mark": {"type": "text", "text": "Promoters", "fontSize": 17, "align": "left", "baseline": "alphabetic"}, "encoding": {"x": {"datum": 603, "axis": null}, "y": {"datum": 191.8, "axis": null}}},
          {"mark": {"type": "text", "text": "Δ", "fontSize": 17, "align": "left", "baseline": "alphabetic"}, "encoding": {"x": {"datum": 649, "axis": null}, "y": {"datum": 224.4, "axis": null}}},
          {"mark": {"type": "text", "text": "H3K27ac", "fontSize": 17, "fontWeight": "bold", "align": "left", "baseline": "alphabetic"}, "encoding": {"x": {"datum": 668, "axis": null}, "y": {"datum": 224.4, "axis": null}}},
          {"mark": {"type": "text", "text": "Enhancers", "fontSize": 17, "align": "left", "baseline": "alphabetic"}, "encoding": {"x": {"datum": 656.7, "axis": null}, "y": {"datum": 265.4, "axis": null}}},
          {"mark": {"type": "text", "text": "No Δ H3K27ac", "fontSize": 17, "align": "left", "baseline": "alphabetic"}, "encoding": {"x": {"datum": 635, "axis": null}, "y": {"datum": 326.8, "axis": null}}},
          {"mark": {"type": "rule", "color": "#111", "strokeWidth": 1.8, "strokeDash": [7, 5]}, "encoding": {"x": {"datum": 417, "axis": null}, "y": {"datum": 211.5, "axis": null}, "x2": {"datum": 527}, "y2": {"datum": 201.5}}},
          {"mark": {"type": "rule", "color": "#111", "strokeWidth": 1.8, "strokeDash": [7, 5]}, "encoding": {"x": {"datum": 423, "axis": null}, "y": {"datum": 305, "axis": null}, "x2": {"datum": 527}, "y2": {"datum": 318.5}}},
          {"mark": {"type": "rule", "color": "#111", "strokeWidth": 1}, "encoding": {"x": {"datum": 582.7, "axis": null}, "y": {"datum": 201.7, "axis": null}, "x2": {"datum": 585}, "y2": {"datum": 187.3}}},
          {"mark": {"type": "rule", "color": "#111", "strokeWidth": 1}, "encoding": {"x": {"datum": 585, "axis": null}, "y": {"datum": 187.3, "axis": null}, "x2": {"datum": 596.7}, "y2": {"datum": 185}}},
          {"mark": {"type": "rule", "color": "#111", "strokeWidth": 1}, "encoding": {"x": {"datum": 624, "axis": null}, "y": {"datum": 239.3, "axis": null}, "x2": {"datum": 652.7}, "y2": {"datum": 252.7}}},
          {"mark": {"type": "rule", "color": "#111", "strokeWidth": 1}, "encoding": {"x": {"datum": 600, "axis": null}, "y": {"datum": 294.3, "axis": null}, "x2": {"datum": 630.7}, "y2": {"datum": 315}}}
        ]
      },
      {
        "data": {"name": "logo"},
        "transform": [{"filter": "datum.motif === 'KLF5'"}],
        "mark": {"type": "point", "filled": true, "opacity": 1, "strokeWidth": 0},
        "encoding": {
          "x": {"field": "pos", "type": "quantitative", "scale": {"domain": [-5.382, 19.324], "nice": false, "zero": false}, "axis": null},
          "y": {"field": "bits", "type": "quantitative", "stack": "zero", "scale": {"domain": [-14.059, 3.588], "nice": false, "zero": false}, "axis": null},
          "order": {"field": "bits", "type": "quantitative", "sort": "ascending"},
          "color": {"field": "nt", "type": "nominal", "scale": {"domain": ["A", "C", "G", "T"], "range": ["#22b022", "#1111d0", "#ffb300", "#d41111"]}, "legend": null},
          "shape": {"field": "nt", "type": "nominal", "scale": {"domain": ["A", "C", "G", "T"], "range": [
            "M-0.11,0H0.11L0.5,2H0.18L0.1,1.52H-0.1L-0.18,2H-0.5Z M0,0.5L-0.08,1.2H0.08Z",
            "M0.383,0.357L0.171,0.06L-0.087,0.015L-0.321,0.234L-0.47,0.658L-0.5,1L-0.47,1.342L-0.321,1.766L-0.087,1.985L0.171,1.94L0.383,1.643L0.17,1.424L0.075,1.62L-0.039,1.65L-0.143,1.506L-0.209,1.226L-0.222,1L-0.209,0.774L-0.143,0.494L-0.039,0.35L0.075,0.38L0.17,0.576Z",
            "M0.383,0.357L0.171,0.06L-0.087,0.015L-0.321,0.234L-0.47,0.658L-0.5,1L-0.47,1.342L-0.321,1.766L-0.087,1.985L0.171,1.94L0.383,1.643L0.5,1.35L0.5,0.98L0.02,0.98L0.02,1.2L0.22,1.2L0.22,1.35L0.075,1.62L-0.039,1.65L-0.143,1.506L-0.209,1.226L-0.222,1L-0.209,0.774L-0.143,0.494L-0.039,0.35L0.075,0.38L0.17,0.576Z",
            "M-0.5,0H0.5V0.34H0.17V2H-0.17V0.34H-0.5Z"]}, "legend": null},
          "size": {"field": "bits", "type": "quantitative", "scale": {"type": "pow", "exponent": 2, "domain": [0, 2], "range": [0, 1156]}, "legend": null}
        }
      },
      {
        "data": {"name": "logo"},
        "transform": [{"filter": "datum.motif === 'SP1'"}],
        "mark": {"type": "point", "filled": true, "opacity": 1, "strokeWidth": 0},
        "encoding": {
          "x": {"field": "pos", "type": "quantitative", "scale": {"domain": [-5.382, 19.324], "nice": false, "zero": false}, "axis": null},
          "y": {"field": "bits", "type": "quantitative", "stack": "zero", "scale": {"domain": [-11.353, 6.294], "nice": false, "zero": false}, "axis": null},
          "order": {"field": "bits", "type": "quantitative", "sort": "ascending"},
          "color": {"field": "nt", "type": "nominal", "scale": {"domain": ["A", "C", "G", "T"], "range": ["#22b022", "#1111d0", "#ffb300", "#d41111"]}, "legend": null},
          "shape": {"field": "nt", "type": "nominal", "scale": {"domain": ["A", "C", "G", "T"], "range": [
            "M-0.11,0H0.11L0.5,2H0.18L0.1,1.52H-0.1L-0.18,2H-0.5Z M0,0.5L-0.08,1.2H0.08Z",
            "M0.383,0.357L0.171,0.06L-0.087,0.015L-0.321,0.234L-0.47,0.658L-0.5,1L-0.47,1.342L-0.321,1.766L-0.087,1.985L0.171,1.94L0.383,1.643L0.17,1.424L0.075,1.62L-0.039,1.65L-0.143,1.506L-0.209,1.226L-0.222,1L-0.209,0.774L-0.143,0.494L-0.039,0.35L0.075,0.38L0.17,0.576Z",
            "M0.383,0.357L0.171,0.06L-0.087,0.015L-0.321,0.234L-0.47,0.658L-0.5,1L-0.47,1.342L-0.321,1.766L-0.087,1.985L0.171,1.94L0.383,1.643L0.5,1.35L0.5,0.98L0.02,0.98L0.02,1.2L0.22,1.2L0.22,1.35L0.075,1.62L-0.039,1.65L-0.143,1.506L-0.209,1.226L-0.222,1L-0.209,0.774L-0.143,0.494L-0.039,0.35L0.075,0.38L0.17,0.576Z",
            "M-0.5,0H0.5V0.34H0.17V2H-0.17V0.34H-0.5Z"]}, "legend": null},
          "size": {"field": "bits", "type": "quantitative", "scale": {"type": "pow", "exponent": 2, "domain": [0, 2], "range": [0, 1156]}, "legend": null}
        }
      }
    ]
  },
  {
    "width": 270, "height": 187,
    "layer": [
      {"data": {"name": "ns"}, "mark": {"type": "circle", "size": 36, "color": "#a8a8a8", "opacity": 1},
       "encoding": {
         "x": {"field": "x", "type": "quantitative", "scale": {"domain": [-2.52, 1.61], "nice": false, "zero": false},
               "axis": {"values": [-2.5,-2,-1.5,-1,-0.5,0,0.5,1,1.5], "labelExpr": "datum.value == -2.5 ? '2.5' : datum.value == -1.5 ? '-1.5' : datum.value == -0.5 ? '-0.5' : datum.value == 0 ? '0' : datum.value == 0.5 ? '0.5' : datum.value == 1.5 ? '1.5' : ''", "domainWidth": 2.5, "domainColor": "#222", "tickWidth": 2, "tickColor": "#222", "tickSize": 7, "labelFontSize": 17.5, "labelPadding": 3, "labelColor": "#111", "title": "Log₂(fold-change)", "titleFontSize": 17.5, "titlePadding": 8}},
         "y": {"field": "y", "type": "quantitative", "scale": {"domain": [0, 12], "nice": false, "zero": false},
               "axis": {"values": [4, 8, 12], "offset": -164.7, "domainWidth": 2.5, "domainColor": "#222", "tickWidth": 2, "tickColor": "#222", "tickSize": 6, "labelFontSize": 17.5, "labelPadding": 2, "labelColor": "#111", "title": null}}
       }},
      {"data": {"name": "fc"}, "mark": {"type": "circle", "size": 32, "opacity": 1},
       "encoding": {
         "x": {"field": "x", "type": "quantitative"},
         "y": {"field": "y", "type": "quantitative"},
         "color": {"field": "t", "type": "nominal", "scale": {"domain": ["Enhancer", "Promoter"], "range": ["#555555", "#ff0000"]},
                   "legend": {"orient": "none", "legendX": -10, "legendY": 120, "zindex": 1, "title": "FC>2:", "titleFontSize": 17.5, "titleFontWeight": "normal", "titlePadding": 5, "labelFontSize": 17.5, "labelLimit": 300, "symbolType": "circle", "symbolSize": 50, "symbolStrokeWidth": 0, "symbolOpacity": 1, "rowPadding": 6, "labelOffset": 9, "padding": 0}}
       }},
      {"data": {"values": [{}]}, "mark": {"type": "text", "text": "D", "fontSize": 32, "fontWeight": "bold", "align": "left", "baseline": "alphabetic", "color": "#000"}, "encoding": {"x": {"datum": -3.239}, "y": {"datum": 12.385}}},
      {"data": {"values": [{}]}, "mark": {"type": "text", "text": "-Log₁₀(p)", "fontSize": 19, "angle": 90, "align": "center", "baseline": "middle", "color": "#111"}, "encoding": {"x": {"datum": 0.28}, "y": {"datum": 6.35}}}
    ]
  },
  {
    "width": 420, "height": 200,
    "resolve": {"scale": {"x": "independent", "y": "independent", "color": "independent", "size": "independent", "shape": "independent"}},
    "layer": [
      {
        "data": {"values": [{}]},
        "layer": [
          {"mark": {"type": "text", "text": "Top motif enriched in", "fontSize": 19, "align": "left", "baseline": "alphabetic"},
           "encoding": {"x": {"datum": 373, "type": "quantitative", "scale": {"domain": [330, 750], "nice": false, "zero": false}, "axis": null},
                        "y": {"datum": 383.5, "type": "quantitative", "scale": {"domain": [381, 581], "reverse": true, "nice": false, "zero": false}, "axis": null}}},
          {"mark": {"type": "text", "text": "DOWN (FC>2; p<0.01)", "fontSize": 19, "align": "left", "baseline": "alphabetic"}, "encoding": {"x": {"datum": 373, "axis": null}, "y": {"datum": 406.8, "axis": null}}},
          {"mark": {"type": "text", "text": "regions:", "fontSize": 19, "align": "left", "baseline": "alphabetic"}, "encoding": {"x": {"datum": 373, "axis": null}, "y": {"datum": 430.1, "axis": null}}},
          {"mark": {"type": "text", "text": "EKLF", "fontSize": 19, "fontWeight": "bold", "align": "left", "baseline": "alphabetic"}, "encoding": {"x": {"datum": 445, "axis": null}, "y": {"datum": 430.1, "axis": null}}},
          {"mark": {"type": "text", "text": "p", "fontSize": 19, "fontStyle": "italic", "align": "left", "baseline": "alphabetic"}, "encoding": {"x": {"datum": 373, "axis": null}, "y": {"datum": 506.8, "axis": null}}},
          {"mark": {"type": "text", "text": "-value:", "fontSize": 19, "align": "left", "baseline": "alphabetic"}, "encoding": {"x": {"datum": 383.6, "axis": null}, "y": {"datum": 506.8, "axis": null}}},
          {"mark": {"type": "text", "text": "1e-12", "fontSize": 19, "fontWeight": "bold", "align": "left", "baseline": "alphabetic"}, "encoding": {"x": {"datum": 373, "axis": null}, "y": {"datum": 530.1, "axis": null}}},
          {"mark": {"type": "text", "text": "(HOMER", "fontSize": 19, "align": "left", "baseline": "alphabetic"}, "encoding": {"x": {"datum": 426.9, "axis": null}, "y": {"datum": 530.1, "axis": null}}},
          {"mark": {"type": "text", "text": "de novo", "fontSize": 19, "fontStyle": "italic", "align": "left", "baseline": "alphabetic"}, "encoding": {"x": {"datum": 509.2, "axis": null}, "y": {"datum": 530.1, "axis": null}}},
          {"mark": {"type": "text", "text": "motif enrichment)", "fontSize": 19, "align": "left", "baseline": "alphabetic"}, "encoding": {"x": {"datum": 373, "axis": null}, "y": {"datum": 553.5, "axis": null}}}
        ]
      },
      {
        "data": {"name": "logo"},
        "transform": [{"filter": "datum.motif === 'EKLF'"}],
        "mark": {"type": "point", "filled": true, "opacity": 1, "strokeWidth": 0},
        "encoding": {
          "x": {"field": "pos", "type": "quantitative", "scale": {"domain": [-1.926, 24.0], "nice": false, "zero": false}, "axis": null},
          "y": {"field": "bits", "type": "quantitative", "stack": "zero", "scale": {"domain": [-5.281, 5.53], "nice": false, "zero": false}, "axis": null},
          "order": {"field": "bits", "type": "quantitative", "sort": "ascending"},
          "color": {"field": "nt", "type": "nominal", "scale": {"domain": ["A", "C", "G", "T"], "range": ["#22b022", "#1111d0", "#ffb300", "#d41111"]}, "legend": null},
          "shape": {"field": "nt", "type": "nominal", "scale": {"domain": ["A", "C", "G", "T"], "range": [
            "M-0.11,0H0.11L0.5,2H0.18L0.1,1.52H-0.1L-0.18,2H-0.5Z M0,0.5L-0.08,1.2H0.08Z",
            "M0.383,0.357L0.171,0.06L-0.087,0.015L-0.321,0.234L-0.47,0.658L-0.5,1L-0.47,1.342L-0.321,1.766L-0.087,1.985L0.171,1.94L0.383,1.643L0.17,1.424L0.075,1.62L-0.039,1.65L-0.143,1.506L-0.209,1.226L-0.222,1L-0.209,0.774L-0.143,0.494L-0.039,0.35L0.075,0.38L0.17,0.576Z",
            "M0.383,0.357L0.171,0.06L-0.087,0.015L-0.321,0.234L-0.47,0.658L-0.5,1L-0.47,1.342L-0.321,1.766L-0.087,1.985L0.171,1.94L0.383,1.643L0.5,1.35L0.5,0.98L0.02,0.98L0.02,1.2L0.22,1.2L0.22,1.35L0.075,1.62L-0.039,1.65L-0.143,1.506L-0.209,1.226L-0.222,1L-0.209,0.774L-0.143,0.494L-0.039,0.35L0.075,0.38L0.17,0.576Z",
            "M-0.5,0H0.5V0.34H0.17V2H-0.17V0.34H-0.5Z"]}, "legend": null},
          "size": {"field": "bits", "type": "quantitative", "scale": {"type": "pow", "exponent": 2, "domain": [0, 2], "range": [0, 1369]}, "legend": null}
        }
      }
    ]
  }
]
}
